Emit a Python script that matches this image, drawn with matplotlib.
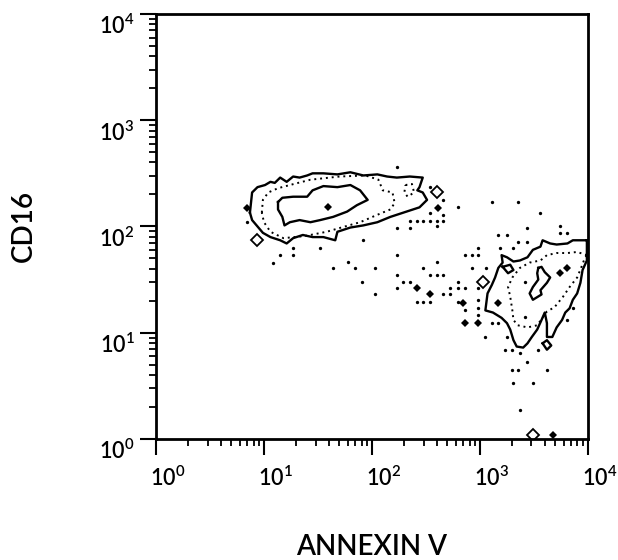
import matplotlib
matplotlib.use('Agg')
import matplotlib.pyplot as plt
import matplotlib.transforms as mtransforms
import numpy as np
from matplotlib.ticker import LogLocator, NullFormatter

plt.rcParams['font.family'] = ['Lato', 'DejaVu Sans']
plt.rcParams['font.weight'] = 'semibold'
plt.rcParams['mathtext.fontset'] = 'custom'
plt.rcParams['mathtext.rm'] = 'Lato:semibold'
plt.rcParams['mathtext.it'] = 'Lato:italic'

# all readings are log10 decades: (ANNEXIN V, CD16)

# annexin-negative / CD16-high population
left_outer = [(0.87, 2.13), (0.89, 2.32), (0.94, 2.37), (1.01, 2.39), (1.06, 2.42),
              (1.10, 2.41), (1.15, 2.46), (1.21, 2.42), (1.27, 2.47), (1.33, 2.46),
              (1.40, 2.48), (1.45, 2.50), (1.55, 2.50), (1.68, 2.49), (1.80, 2.51),
              (1.92, 2.48), (2.05, 2.49), (2.14, 2.47), (2.23, 2.46), (2.35, 2.47),
              (2.47, 2.46), (2.44, 2.37), (2.42, 2.34), (2.47, 2.32), (2.51, 2.25),
              (2.44, 2.18), (2.38, 2.16), (2.29, 2.13), (2.17, 2.09), (2.05, 2.04),
              (1.92, 2.01), (1.80, 1.99), (1.68, 1.95), (1.66, 1.87), (1.55, 1.90),
              (1.45, 1.90), (1.36, 1.92), (1.27, 1.89), (1.21, 1.84), (1.15, 1.87),
              (1.06, 1.90), (0.99, 1.94), (0.94, 2.00), (0.89, 2.06)]
left_middle = [(0.98, 2.13), (0.99, 2.25), (1.04, 2.32), (1.13, 2.36), (1.24, 2.39),
               (1.43, 2.44), (1.70, 2.47), (1.94, 2.48), (2.06, 2.44), (2.10, 2.34),
               (2.19, 2.32), (2.21, 2.22), (2.17, 2.16), (2.05, 2.11), (1.89, 2.04),
               (1.75, 2.00), (1.58, 1.95), (1.38, 1.91), (1.18, 1.89), (1.06, 1.95),
               (1.00, 2.04)]
left_inner = [(1.13, 2.23), (1.17, 2.27), (1.27, 2.28), (1.40, 2.28), (1.45, 2.34),
              (1.55, 2.38), (1.68, 2.37), (1.80, 2.39), (1.89, 2.34), (1.96, 2.25),
              (1.86, 2.20), (1.77, 2.14), (1.64, 2.09), (1.52, 2.06), (1.43, 2.04),
              (1.33, 2.06), (1.24, 2.04), (1.19, 2.01), (1.17, 2.09), (1.13, 2.16)]
left_islet = [(2.31, 2.39), (2.37, 2.40), (2.39, 2.32), (2.33, 2.28), (2.30, 2.32)]

# annexin-positive / CD16-low population
right_outer = [(3.99, 1.87), (3.86, 1.87), (3.81, 1.84), (3.71, 1.83), (3.65, 1.84),
               (3.58, 1.87), (3.56, 1.81), (3.49, 1.78), (3.44, 1.71), (3.37, 1.68),
               (3.31, 1.67), (3.25, 1.71), (3.20, 1.73), (3.21, 1.66), (3.17, 1.61),
               (3.14, 1.52), (3.11, 1.45), (3.07, 1.37), (3.06, 1.29), (3.05, 1.21),
               (3.12, 1.19), (3.20, 1.14), (3.25, 1.09), (3.28, 1.03), (3.31, 0.93),
               (3.34, 0.87), (3.40, 0.86), (3.44, 0.90), (3.48, 0.96), (3.53, 1.03),
               (3.57, 1.12), (3.60, 1.19), (3.62, 1.09), (3.62, 0.96), (3.67, 0.96),
               (3.71, 1.05), (3.76, 1.12), (3.79, 1.19), (3.83, 1.23), (3.86, 1.31),
               (3.90, 1.37), (3.93, 1.47), (3.95, 1.59), (3.99, 1.68)]
right_middle = [(3.99, 1.73), (3.90, 1.76), (3.81, 1.75), (3.71, 1.75), (3.62, 1.73),
                (3.56, 1.68), (3.46, 1.66), (3.37, 1.61), (3.30, 1.52), (3.26, 1.43),
                (3.28, 1.34), (3.30, 1.21), (3.31, 1.12), (3.35, 1.07), (3.44, 1.05),
                (3.53, 1.07), (3.62, 1.20), (3.69, 1.24), (3.77, 1.34), (3.83, 1.43),
                (3.90, 1.52), (3.94, 1.62), (3.97, 1.70)]
right_inner = [(3.54, 1.61), (3.57, 1.62), (3.60, 1.57), (3.65, 1.52), (3.62, 1.47),
               (3.56, 1.40), (3.57, 1.36), (3.49, 1.31), (3.46, 1.37), (3.49, 1.43),
               (3.54, 1.50), (3.53, 1.56)]
right_islet_a = [(3.21, 1.62), (3.28, 1.64), (3.31, 1.59), (3.26, 1.56)]
right_islet_b = [(3.58, 0.90), (3.62, 0.93), (3.66, 0.88), (3.62, 0.84)]

# single events outside the contours
events_small = [(2.23, 2.56), (0.84, 2.04), (1.08, 1.66), (1.27, 1.80), (1.27, 1.73),
                (1.15, 1.73), (1.52, 1.80), (1.64, 1.61), (1.78, 1.67), (1.84, 1.61),
                (1.91, 1.48), (1.92, 1.87), (2.03, 1.61), (2.03, 1.36), (2.23, 1.73),
                (2.23, 1.54), (2.23, 1.99), (2.23, 1.42), (2.35, 1.99), (2.35, 1.48),
                (2.35, 2.05), (2.42, 2.05), (2.47, 2.05), (2.54, 2.05), (2.60, 2.05),
                (2.66, 2.05), (2.66, 2.25), (2.54, 2.37), (2.47, 1.61), (2.54, 1.54),
                (2.60, 1.67), (2.60, 1.54), (2.66, 1.54), (2.66, 1.36), (2.80, 2.18),
                (3.11, 2.23), (3.35, 2.23), (3.56, 2.13), (2.54, 2.13), (2.66, 2.11),
                (2.60, 2.00), (3.44, 1.99), (3.74, 2.00), (3.17, 1.92), (3.25, 1.92),
                (3.74, 1.94), (3.81, 1.94), (3.35, 1.85), (3.44, 1.85), (2.98, 1.80),
                (3.19, 1.80), (3.31, 1.80), (2.86, 1.73), (2.93, 1.73), (2.98, 1.73),
                (2.93, 1.61), (3.06, 1.61), (2.29, 1.48), (2.80, 1.48), (2.72, 1.42),
                (2.80, 1.42), (2.86, 1.42), (2.72, 1.36), (2.98, 1.42), (2.42, 1.29),
                (2.47, 1.29), (2.54, 1.29), (2.80, 1.29), (2.98, 1.31), (2.98, 1.23),
                (2.86, 1.21), (2.98, 1.17), (3.11, 1.09), (3.17, 1.09), (3.05, 0.96),
                (3.25, 0.96), (3.23, 0.84), (3.30, 0.84), (3.37, 0.81), (3.54, 0.84),
                (3.44, 0.72), (3.30, 0.65), (3.35, 0.65), (3.62, 0.65), (3.31, 0.53),
                (3.49, 0.53), (3.37, 0.27), (3.42, 1.48), (3.86, 1.23), (3.81, 1.12),
                (3.42, 1.15)]
events_large = [(0.84, 2.17), (1.59, 2.18), (2.61, 2.17), (2.42, 1.42), (2.54, 1.36),
                (2.84, 1.28), (2.86, 1.09), (2.98, 1.09), (3.17, 1.28), (3.74, 1.56),
                (3.81, 1.61), (3.68, 0.04)]
events_open = [(2.60, 2.32), (0.94, 1.87), (3.03, 1.48), (3.49, 0.04)]

annexin_ticks = [1, 10, 100, 1000, 10000]
cd16_ticks = [1, 10, 100, 1000, 10000]


def decades(pts, close=False):
    arr = np.array(pts)
    if close:
        arr = np.vstack([arr, arr[:1]])
    return 10 ** arr[:, 0], 10 ** arr[:, 1]


fig = plt.figure(figsize=(6.18, 5.60), dpi=100)
ax = fig.add_axes([0.2524, 0.2161, 0.699, 0.759])

solid = dict(color='black', linewidth=1.7, solid_joinstyle='round')
dotted = dict(color='black', linewidth=1.4, linestyle=(0, (1, 2.0)))

for loop in [left_outer, left_inner, right_outer, right_inner, right_islet_a, right_islet_b]:
    ax.plot(*decades(loop, close=True), **solid)
for loop in [left_middle, left_islet, right_middle]:
    ax.plot(*decades(loop, close=True), **dotted)

ax.plot(*decades(events_small), linestyle='none', marker='o', markersize=2.4,
        color='black', markeredgewidth=0)
ax.plot(*decades(events_large), linestyle='none', marker='D', markersize=4.5,
        color='black', markeredgewidth=0)
ax.plot(*decades(events_open), linestyle='none', marker='D', markersize=6,
        markerfacecolor='white', markeredgecolor='black', markeredgewidth=1.3)

ax.set_xscale('log')
ax.set_yscale('log')
ax.set_xlim(annexin_ticks[0], annexin_ticks[-1])
ax.set_ylim(cd16_ticks[0], cd16_ticks[-1])
ax.set_xticks(annexin_ticks)
ax.set_yticks(cd16_ticks)
ax.xaxis.set_minor_locator(LogLocator(base=10, subs=np.arange(2, 10)))
ax.yaxis.set_minor_locator(LogLocator(base=10, subs=np.arange(2, 10)))
ax.xaxis.set_minor_formatter(NullFormatter())
ax.yaxis.set_minor_formatter(NullFormatter())

for side in ax.spines:
    ax.spines[side].set_linewidth(2.0)
ax.tick_params(which='major', direction='out', length=11.5, width=1.5, labelsize=15.5)
ax.tick_params(which='minor', direction='out', length=5, width=1.3)
ax.tick_params(axis='x', which='major', pad=8)
ax.tick_params(axis='y', which='major', pad=4)
ax.tick_params(top=False, right=False, which='both')

# labels hang off the tick: left-aligned on x, top-aligned on y
shift = mtransforms.ScaledTranslation(-4 / 72, 0, fig.dpi_scale_trans)
for lab in ax.get_xticklabels():
    lab.set_horizontalalignment('left')
    lab.set_transform(lab.get_transform() + shift)
for lab in ax.get_yticklabels():
    lab.set_verticalalignment('top')

fig.text(0.602, 0.0, 'ANNEXIN V', ha='center', va='bottom', fontsize=20)
fig.text(0.038, 0.596, 'CD16', ha='center', va='center', rotation=90, fontsize=20)

fig.savefig('out.png', dpi=100)
plt.close()
